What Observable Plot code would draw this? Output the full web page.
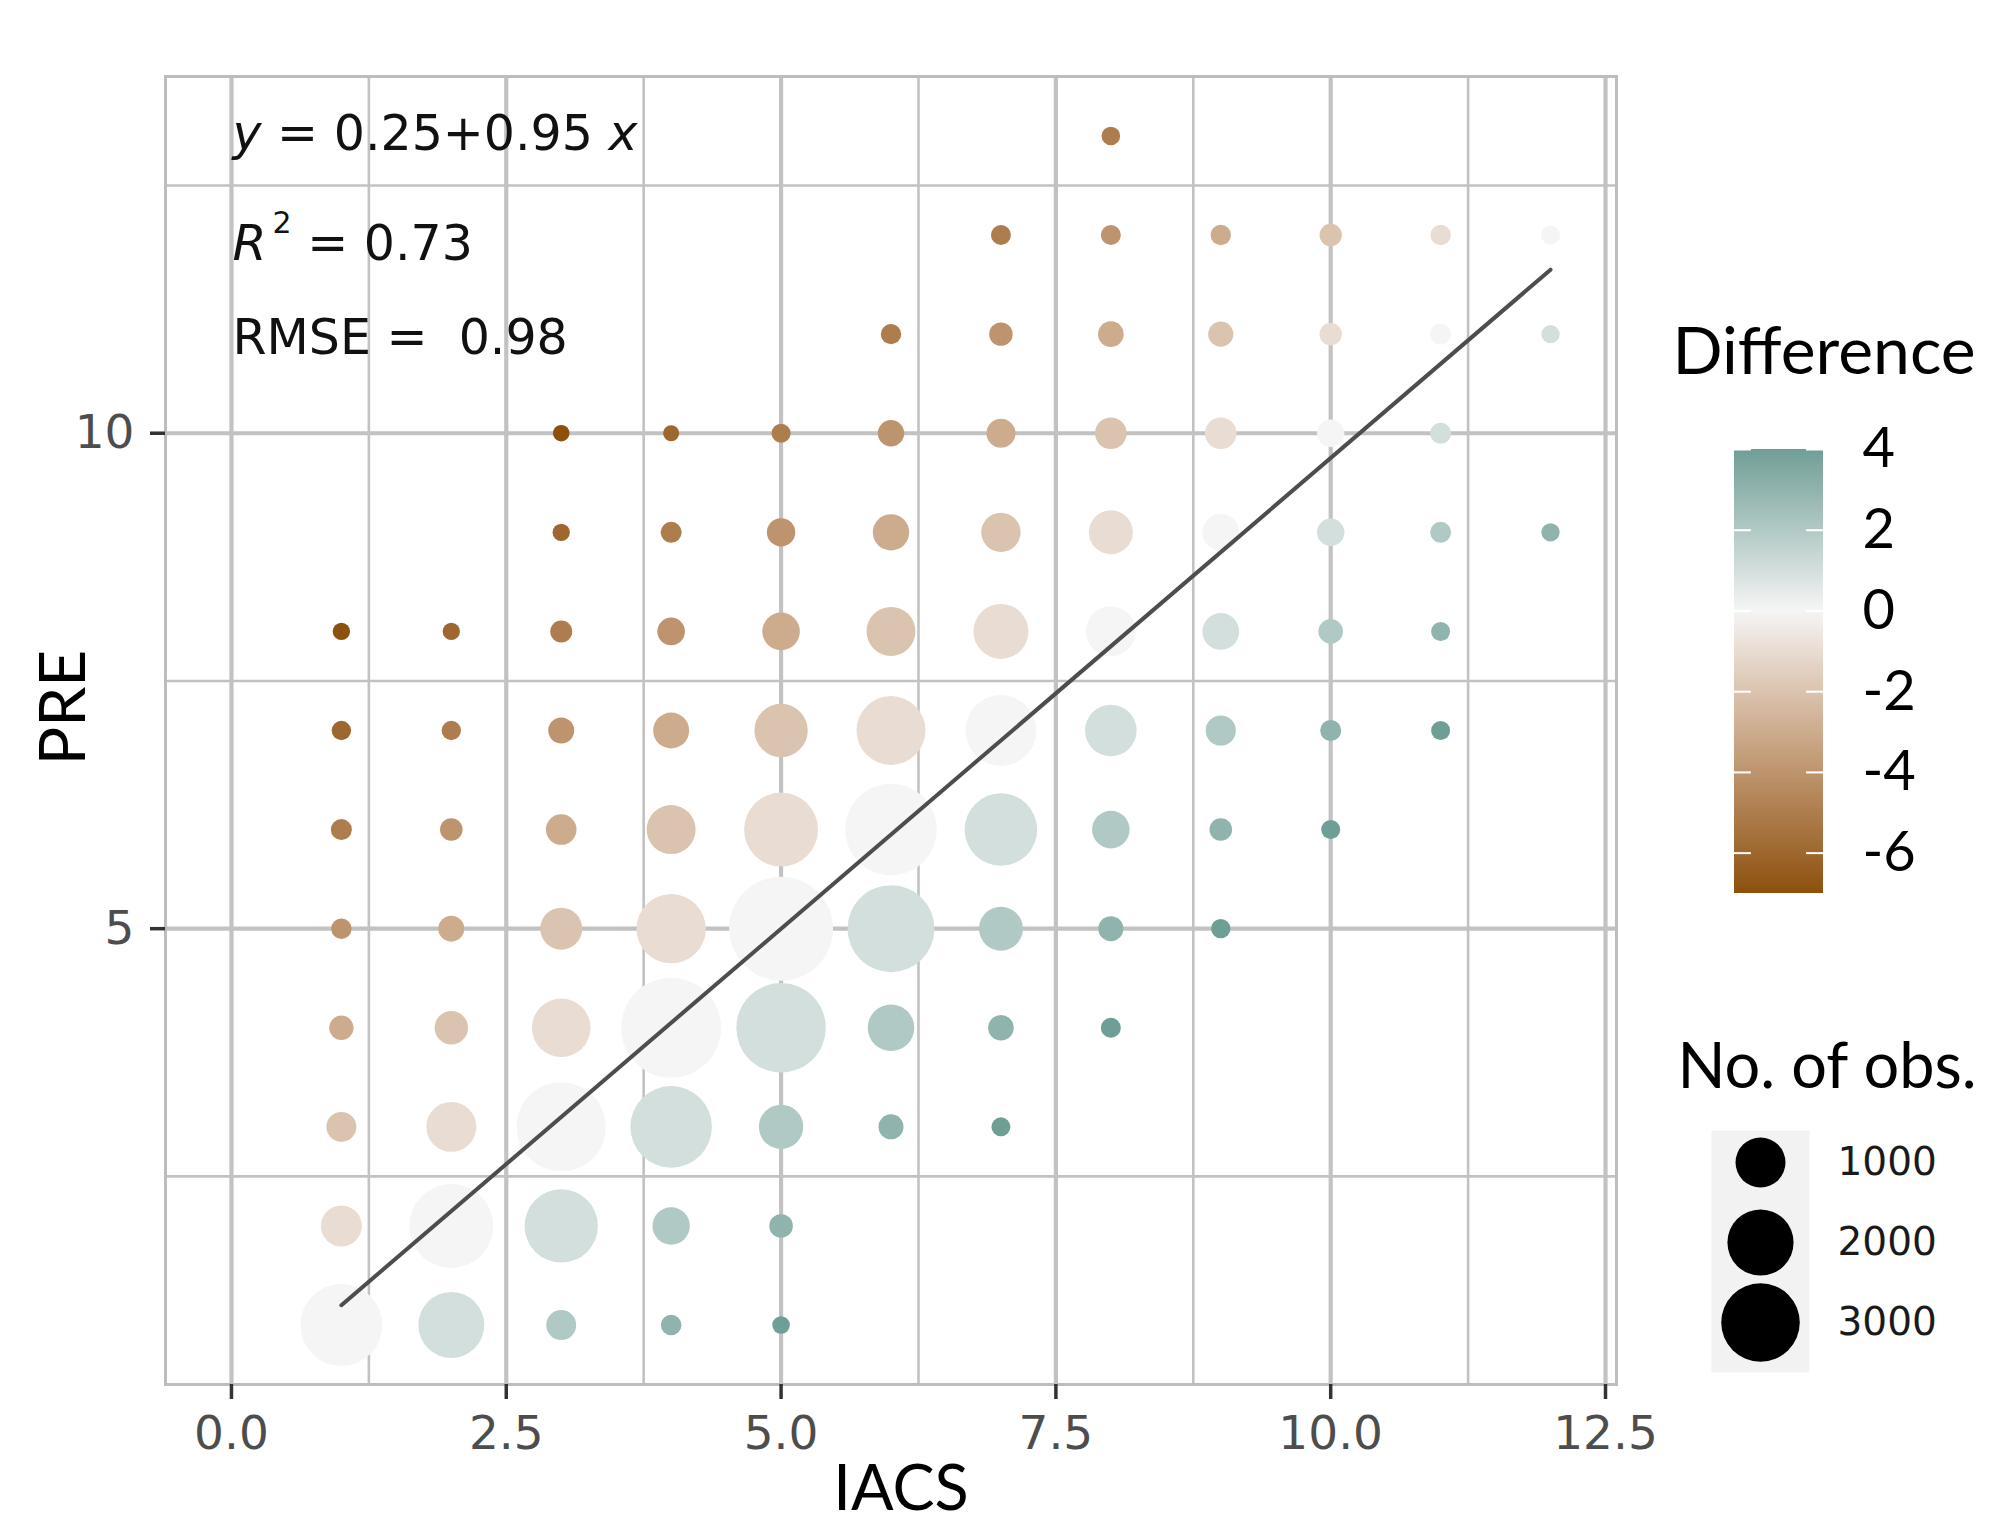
<!DOCTYPE html>
<html>
<head>
<meta charset="utf-8">
<script src="https://cdn.jsdelivr.net/npm/d3@7"></script>
<script src="https://cdn.jsdelivr.net/npm/@observablehq/plot@0.6"></script>
<style>
  html, body { margin: 0; padding: 0; background: #fff; overflow: hidden; }
  #wrap { position: relative; width: 1996px; height: 1530px; overflow: hidden; background: #fff; }
  #wrap svg { position: absolute; max-width: none; }
</style>
</head>
<body>
<div id="wrap"></div>
<script>
// ---------------- data ----------------
const IACS = [
  8,
  7, 8, 9, 10, 11, 12,
  6, 7, 8, 9, 10, 11, 12,
  3, 4, 5, 6, 7, 8, 9, 10, 11,
  3, 4, 5, 6, 7, 8, 9, 10, 11, 12,
  1, 2, 3, 4, 5, 6, 7, 8, 9, 10, 11,
  1, 2, 3, 4, 5, 6, 7, 8, 9, 10, 11,
  1, 2, 3, 4, 5, 6, 7, 8, 9, 10,
  1, 2, 3, 4, 5, 6, 7, 8, 9,
  1, 2, 3, 4, 5, 6, 7, 8,
  1, 2, 3, 4, 5, 6, 7,
  1, 2, 3, 4, 5,
  1, 2, 3, 4, 5
];
const PRE = [
  13,
  12, 12, 12, 12, 12, 12,
  11, 11, 11, 11, 11, 11, 11,
  10, 10, 10, 10, 10, 10, 10, 10, 10,
  9, 9, 9, 9, 9, 9, 9, 9, 9, 9,
  8, 8, 8, 8, 8, 8, 8, 8, 8, 8, 8,
  7, 7, 7, 7, 7, 7, 7, 7, 7, 7, 7,
  6, 6, 6, 6, 6, 6, 6, 6, 6, 6,
  5, 5, 5, 5, 5, 5, 5, 5, 5,
  4, 4, 4, 4, 4, 4, 4, 4,
  3, 3, 3, 3, 3, 3, 3,
  2, 2, 2, 2, 2,
  1, 1, 1, 1, 1
];
const N_OBS = [
  39,
  54, 54, 59, 86, 59, 45,
  59, 102, 141, 133, 86, 67, 35,
  21, 17, 43, 157, 214, 280, 280, 178, 67,
  27, 67, 200, 425, 531, 716, 438, 178, 67, 35,
  27, 27, 80, 182, 466, 949, 1272, 1000, 438, 123, 43,
  47, 47, 149, 412, 1181, 2208, 2363, 1085, 243, 67, 43,
  67, 89, 253, 949, 2605, 4261, 2490, 466, 89, 43,
  59, 149, 632, 2238, 5672, 3789, 716, 130, 47,
  119, 331, 1488, 5194, 4052, 833, 141, 54,
  238, 1000, 4032, 3270, 734, 130, 43,
  592, 3496, 2555, 459, 105,
  3307, 1986, 238, 61, 29
];

// fitted regression (from the chart's annotation)
const FIT_INTERCEPT = 0.25;
const FIT_SLOPE = 0.95;
const FIT_X_RANGE = [1, 12];

// tick values
const X_MAJOR = [0, 2.5, 5, 7.5, 10, 12.5];
const X_MINOR = [1.25, 3.75, 6.25, 8.75, 11.25];
const Y_MAJOR = [5, 10];
const Y_MINOR = [2.5, 7.5, 12.5];
const DIFF_TICKS = [-6, -4, -2, 0, 2, 4];
const SIZE_BREAKS = [1000, 2000, 3000];

// ---------------- derived tables ----------------
const data = IACS.map((x, i) => ({iacs: x, pre: PRE[i], n: N_OBS[i], diff: x - PRE[i]}));
const fitLine = FIT_X_RANGE.map(x => ({x, y: FIT_INTERCEPT + FIT_SLOPE * x}));

const rScale = {type: "sqrt", domain: [0, 3600], range: [5.46, 42.5]};
const colorScale = {type: "linear", domain: [-7, 0, 4], range: ["#8c510a", "#f5f5f5", "#6f9e96"], interpolate: "lab"};

const GRID = "#c2c2c2";
const wrap = document.getElementById("wrap");

// ---------------- main panel ----------------
const main = Plot.plot({
  width: 1996,
  height: 1530,
  marginLeft: 165,
  marginRight: 380,
  marginTop: 76,
  marginBottom: 146,
  style: {background: "transparent", fontFamily: "DejaVu Sans", overflow: "visible"},
  x: {domain: [-0.6, 12.6]},
  y: {domain: [0.4, 13.6]},
  r: rScale,
  color: colorScale,
  marks: [
    Plot.gridX(X_MINOR, {stroke: GRID, strokeOpacity: 1, strokeWidth: 2.6}),
    Plot.gridY(Y_MINOR, {stroke: GRID, strokeOpacity: 1, strokeWidth: 2.6}),
    Plot.gridX(X_MAJOR, {stroke: GRID, strokeOpacity: 1, strokeWidth: 4.2}),
    Plot.gridY(Y_MAJOR, {stroke: GRID, strokeOpacity: 1, strokeWidth: 4.2}),
    Plot.frame({stroke: "#bdbdbd", strokeWidth: 3}),
    Plot.axisX(X_MAJOR, {
      tickSize: 15, tickPadding: 16, tickFormat: d3.format(".1f"),
      fontSize: 47, fontFamily: "DejaVu Sans", stroke: "#333333", strokeWidth: 3.5,
      fill: "#4d4d4d", label: null
    }),
    Plot.axisY(Y_MAJOR, {
      tickSize: 15, tickPadding: 16, tickFormat: d => String(d),
      fontSize: 47, fontFamily: "DejaVu Sans", stroke: "#333333", strokeWidth: 3.5,
      fill: "#4d4d4d", label: null
    }),
    Plot.dot(data, {x: "iacs", y: "pre", r: "n", fill: "diff", stroke: "none"}),
    Plot.line(fitLine, {x: "x", y: "y", stroke: "#4d4d4d", strokeWidth: 4}),
    Plot.text(["y = 0.25+0.95 x"], {frameAnchor: "top-left", textAnchor: "start", lineAnchor: "bottom", dx: 67, dy: 73, fontSize: 49, fill: "#111"}),
    Plot.text(["R2 = 0.73"], {frameAnchor: "top-left", textAnchor: "start", lineAnchor: "bottom", dx: 67, dy: 183, fontSize: 49, fill: "#111"}),
    Plot.text(["RMSE = \u00a00.98"], {frameAnchor: "top-left", textAnchor: "start", lineAnchor: "bottom", dx: 67, dy: 277, fontSize: 49, fill: "#111"}),
    Plot.text(["IACS"], {frameAnchor: "bottom", textAnchor: "middle", lineAnchor: "bottom", dx: 10, dy: 125, fontSize: 63, fontFamily: "Lato", fill: "#000"}),
    Plot.text(["PRE"], {frameAnchor: "left", textAnchor: "middle", rotate: -90, lineAnchor: "middle", dx: -101, dy: -23, fontSize: 64, fontFamily: "Lato", fill: "#000"})
  ]
});
main.style.left = "0px";
main.style.top = "0px";
wrap.appendChild(main);

// rich text for the annotation lines (italic variables, superscript)
function rich(el, segs) {
  el.textContent = "";
  for (const s of segs) {
    const t = document.createElementNS("http://www.w3.org/2000/svg", "tspan");
    t.textContent = s.t;
    if (s.italic) t.setAttribute("font-style", "italic");
    if (s.size) t.setAttribute("font-size", s.size);
    if (s.dy) t.setAttribute("dy", s.dy);
    if (s.dx) t.setAttribute("dx", s.dx);
    el.appendChild(t);
  }
}
d3.select(main).selectAll("text").each(function () {
  const c = this.textContent;
  if (c === "y = 0.25+0.95 x") {
    rich(this, [{t: "y", italic: true}, {t: " = 0.25+0.95 "}, {t: "x", italic: true}]);
  } else if (c === "R2 = 0.73") {
    rich(this, [{t: "R", italic: true}, {t: "2", size: 30, dy: -27, dx: 6}, {t: " = 0.73", dy: 27}]);
  }
});

// ---------------- colour legend ----------------
const RAMP_STEP = 0.02;
const ramp = d3.range(-7, 4, RAMP_STEP);
const colorLeg = Plot.plot({
  width: 356,
  height: 600,
  marginLeft: 94,
  marginRight: 173,
  marginTop: 149,
  marginBottom: 7,
  style: {background: "transparent", fontFamily: "Lato", overflow: "visible"},
  x: {domain: [0, 1], axis: null},
  y: {domain: [-7, 4], axis: null},
  color: colorScale,
  marks: [
    Plot.rect(ramp, {x1: 0, x2: 1, y1: d => d, y2: d => Math.min(4, d + RAMP_STEP * 2), fill: d => d + RAMP_STEP / 2, shapeRendering: "crispEdges"}),
    Plot.ruleY(DIFF_TICKS, {x1: 0, x2: 0.19, stroke: "white", strokeWidth: 2}),
    Plot.ruleY(DIFF_TICKS, {x1: 0.81, x2: 1, stroke: "white", strokeWidth: 2}),
    Plot.axisY(DIFF_TICKS, {anchor: "right", tickSize: 0, tickPadding: 39, tickFormat: d => String(d), fontSize: 56, fontFamily: "Lato", fill: "#000", label: null}),
    Plot.text(["Difference"], {frameAnchor: "top-left", textAnchor: "start", lineAnchor: "bottom", dx: -62, dy: -76, fontSize: 66, fontFamily: "Lato", fill: "#000"})
  ]
});
colorLeg.style.left = "1640px";
colorLeg.style.top = "300px";
wrap.appendChild(colorLeg);

// ---------------- size legend ----------------
const sizeLeg = Plot.plot({
  width: 356,
  height: 420,
  marginLeft: 71,
  marginRight: 187,
  marginTop: 150,
  marginBottom: 28,
  style: {background: "transparent", fontFamily: "DejaVu Sans", overflow: "visible"},
  x: {domain: [0, 1], axis: null},
  y: {type: "point", domain: SIZE_BREAKS, padding: 0.494, align: 0.39, axis: null},
  r: rScale,
  marks: [
    Plot.frame({fill: "#f2f2f2", stroke: "none"}),
    Plot.dot(SIZE_BREAKS, {x: () => 0.5, y: d => d, r: d => d, fill: "#000", stroke: "none"}),
    Plot.text(SIZE_BREAKS, {x: () => 1, y: d => d, text: d => String(d), dx: 28, textAnchor: "start", fontSize: 39, fontFamily: "DejaVu Sans", fill: "#1a1a1a"}),
    Plot.text(["No. of obs."], {frameAnchor: "top-left", textAnchor: "start", lineAnchor: "bottom", dx: -34, dy: -43, fontSize: 63, fontFamily: "Lato", fill: "#000"})
  ]
});
sizeLeg.style.left = "1640px";
sizeLeg.style.top = "980px";
wrap.appendChild(sizeLeg);
</script>
</body>
</html>
